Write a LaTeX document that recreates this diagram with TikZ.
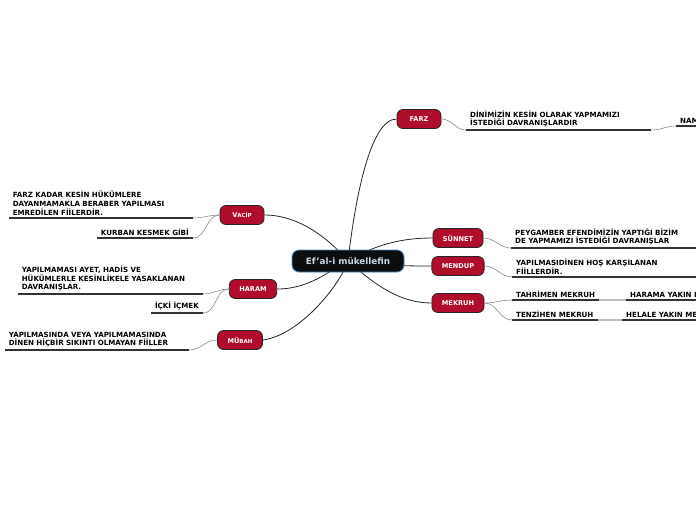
\documentclass[tikz,border=0pt]{standalone}
\usepackage{fontspec}
\setmainfont{DejaVu Sans}
\usepackage{xcolor}
\usetikzlibrary{positioning, backgrounds}
\definecolor{mapred}{HTML}{B00D2C}
\definecolor{rootblue}{HTML}{4A90C8}
\definecolor{roottext}{HTML}{C4D6E6}

\begin{document}
\begin{tikzpicture}[x=1pt,y=-1pt,font=\fontsize{7.1}{8.7}\selectfont\bfseries,
    root/.style={rectangle, rounded corners=7pt, fill=black!95, draw=rootblue, line width=0.8pt,
                 text=roottext, minimum width=112pt, minimum height=22pt,
                 font=\fontsize{8.8}{10}\selectfont\bfseries},
    topic/.style={rectangle, rounded corners=6pt, fill=mapred, draw=black!85, line width=0.8pt,
                  text=white, minimum width=44pt, minimum height=19pt, inner xsep=10pt,
                  font=\fontsize{6.6}{8}\selectfont\bfseries},
    leafr/.style={anchor=south west, align=left, inner xsep=4pt, inner ysep=2.5pt},
    leafl/.style={anchor=south east, align=left, inner xsep=4pt, inner ysep=2.5pt},
    branch/.style={draw=black!85, line width=0.8pt},
    twig/.style={draw=black!45, line width=0.6pt},
    uline/.style={draw=black!80, line width=1.4pt},
    link/.style={draw=black!25, line width=1.6pt}]
    \useasboundingbox (0,0) rectangle (696,520);
    \clip (0,0) rectangle (696,520);

    \node[root] (root) at (348,261) {Ef'al-i mükellefin};

    \node[topic] (farz)   at (419,119) {FARZ};
    \node[topic] (vacip)  at (242,215) {V{\fontsize{5.5}{6}\selectfont ACİP}};
    \node[topic] (sunnet) at (458,238) {SÜNNET};
    \node[topic] (mendup) at (458,266) {MENDUP};
    \node[topic] (haram)  at (253,289) {HARAM};
    \node[topic] (mekruh) at (458,303) {MEKRUH};
    \node[topic] (mubah)  at (240,340) {MÜ{\fontsize{5.5}{6}\selectfont BAH}};

    \begin{scope}[on background layer]
        \draw[branch] (farz.west) .. controls (370,119) and (355,200) .. (root.center);
        \draw[branch] (vacip.east) .. controls (300,215) and (330,240) .. (root.center);
        \draw[branch] (sunnet.west) .. controls (400,238) and (375,245) .. (root.center);
        \draw[branch] (mendup.west) .. controls (410,266) and (390,266) .. (root.center);
        \draw[branch] (mekruh.west) .. controls (400,303) and (375,285) .. (root.center);
        \draw[branch] (haram.east) .. controls (310,289) and (330,270) .. (root.center);
        \draw[branch] (mubah.east) .. controls (300,335) and (340,285) .. (root.center);
    \end{scope}

    \node[leafr, text width=177pt] (farzT) at (466,130) {DİNİMİZİN KESİN OLARAK YAPMAMIZI\\İSTEDİĞİ DAVRANIŞLARDIR};
    \node[leafr] (namaz) at (676,126) {NAMAZ KILMAK};
    \node[leafl, text width=176pt] (vacipA) at (193,218) {FARZ KADAR KESİN HÜKÜMLERE\\DAYANMAMAKLA BERABER YAPILMASI\\EMREDİLEN FİİLERDİR.};
    \node[leafl] (vacipB) at (193,238) {KURBAN KESMEK GİBİ};
    \node[leafl, text width=177pt] (haramA) at (203,294) {YAPILMAMASI AYET, HADİS VE\\HÜKÜMLERLE KESİNLİKELE YASAKLANAN\\DAVRANIŞLAR.};
    \node[leafl] (haramB) at (203,313) {İÇKİ İÇMEK};
    \node[leafl, text width=176pt] (mubahA) at (189,350) {YAPILMASINDA VEYA YAPILMAMASINDA\\DİNEN HİÇBİR SIKINTI OLMAYAN FİİLLER};
    \node[leafr, text width=180pt] (sunnetT) at (511,248) {PEYGAMBER EFENDİMİZİN YAPTIĞI BİZİM\\DE YAPMAMIZI İSTEDİĞİ DAVRANIŞLAR};
    \node[leafr, text width=180pt] (mendupT) at (512,277) {YAPILMASIDİNEN HOŞ KARŞILANAN\\FİİLLERDİR.};
    \node[leafr] (tahrimen) at (512,300) {TAHRİMEN MEKRUH};
    \node[leafr] (harama) at (626,300) {HARAMA YAKIN MEKRUH};
    \node[leafr] (tenzihen) at (512,320) {TENZİHEN MEKRUH};
    \node[leafr] (helale) at (622,320) {HELALE YAKIN MEKRUH};

    \foreach \n in {farzT, namaz, vacipA, vacipB, haramA, haramB, mubahA, sunnetT, mendupT, tahrimen, harama, tenzihen, helale}
        \draw[uline] (\n.south west) -- (\n.south east);

    \draw[twig] (farz.east) to[out=0,in=180] (farzT.south west);
    \draw[twig] (farzT.south east) to[out=0,in=180] (namaz.south west);
    \draw[twig] (vacip.west) to[out=180,in=0] (vacipA.south east);
    \draw[twig] (vacip.west) to[out=180,in=0] (vacipB.south east);
    \draw[twig] (haram.west) to[out=180,in=0] (haramA.south east);
    \draw[twig] (haram.west) to[out=180,in=0] (haramB.south east);
    \draw[twig] (mubah.west) to[out=180,in=0] (mubahA.south east);
    \draw[twig] (sunnet.east) to[out=0,in=180] (sunnetT.south west);
    \draw[twig] (mendup.east) to[out=0,in=180] (mendupT.south west);
    \draw[twig] (mekruh.east) to[out=0,in=180] (tahrimen.south west);
    \draw[twig] (mekruh.east) to[out=0,in=180] (tenzihen.south west);
    \draw[link] (tahrimen.south east) -- (harama.south west);
    \draw[link] (tenzihen.south east) -- (helale.south west);
\end{tikzpicture}
\end{document}
